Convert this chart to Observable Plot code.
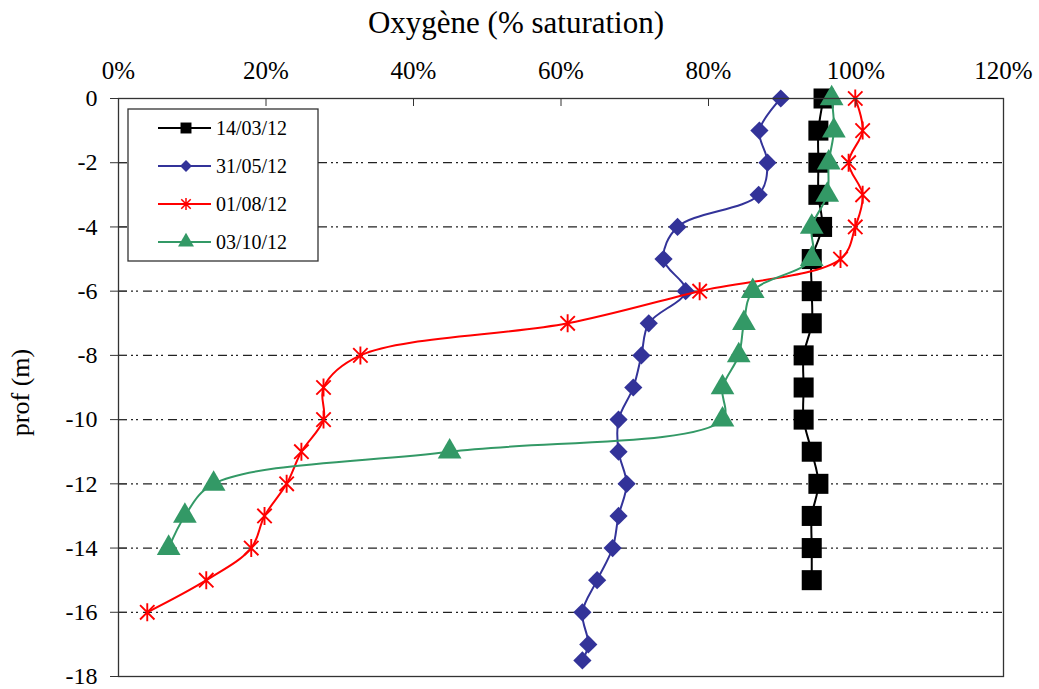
<!DOCTYPE html>
<html>
<head>
<meta charset="utf-8">
<script src="https://cdn.jsdelivr.net/npm/d3@7"></script>
<script src="https://cdn.jsdelivr.net/npm/@observablehq/plot@0.6"></script>
<style>
  body { margin: 0; background: #fff; }
  #chart { width: 1039px; height: 689px; }
</style>
</head>
<body>
<div id="chart"></div>
<script>
// Oxygen saturation profiles (%), one per sampling date, by depth (m)
const dates = ["14/03/12", "31/05/12", "01/08/12", "03/10/12"];

const depth_140312 = [0, -1, -2, -3, -4, -5, -6, -7, -8, -9, -10, -11, -12, -13, -14, -15];
const oxy_140312   = [95.6, 94.9, 94.9, 94.9, 95.4, 94.0, 94.0, 94.0, 92.9, 92.9, 92.9, 94.0, 94.9, 94.0, 94.0, 94.0];

const depth_310512 = [0, -1, -2, -3, -4, -5, -6, -7, -8, -9, -10, -11, -12, -13, -14, -15, -16, -17, -17.5];
const oxy_310512   = [89.8, 86.9, 88.0, 86.8, 75.8, 73.9, 76.9, 71.9, 70.9, 69.8, 67.8, 67.8, 68.9, 67.8, 67.0, 64.9, 62.9, 63.7, 62.9];

const depth_010812 = [0, -1, -2, -3, -4, -5, -6, -7, -8, -9, -10, -11, -12, -13, -14, -15, -16];
const oxy_010812   = [99.9, 100.9, 99.0, 100.9, 99.9, 97.9, 78.8, 60.9, 32.8, 27.8, 27.8, 24.8, 22.8, 19.8, 18.0, 11.9, 3.9];

const depth_031012 = [0, -1, -2, -3, -4, -5, -6, -7, -8, -9, -10, -11, -12, -13, -14];
const oxy_031012   = [96.7, 97.0, 96.3, 96.1, 94.0, 94.0, 86.0, 84.8, 84.1, 81.9, 81.9, 44.9, 12.9, 9.0, 6.8];

const xTicks = [0, 20, 40, 60, 80, 100, 120];
const yTicks = [0, -2, -4, -6, -8, -10, -12, -14, -16, -18];
const gridDepths = [-2, -4, -6, -8, -10, -12, -14, -16];

// Excel-style star marker: an X crossed by a vertical bar
const asterisk = {
  draw(ctx, size) {
    const r = Math.sqrt(size / Math.PI);
    const d = r * 0.8;
    ctx.moveTo(0, -r); ctx.lineTo(0, r);
    ctx.moveTo(-d, -d); ctx.lineTo(d, d);
    ctx.moveTo(-d, d); ctx.lineTo(d, -d);
  }
};

const series = [
  {date: dates[0], depth: depth_140312, oxy: oxy_140312, color: "#000000", symbol: "square", r: 11.3, filled: true},
  {date: dates[1], depth: depth_310512, oxy: oxy_310512, color: "#333399", symbol: "diamond2", r: 8.2, filled: true},
  {date: dates[2], depth: depth_010812, oxy: oxy_010812, color: "#ff0000", symbol: asterisk, r: 9, filled: false},
  {date: dates[3], depth: depth_031012, oxy: oxy_031012, color: "#339966", symbol: "triangle", r: 8.8, filled: true}
];

const rows = s => s.depth.map((d, i) => ({date: s.date, depth: d, oxy: s.oxy[i]}));

const seriesMarks = series.flatMap(s => {
  const data = rows(s);
  return [
    Plot.line(data, {x: "oxy", y: "depth", stroke: s.color, strokeWidth: 2, curve: "catmull-rom"}),
    Plot.dot(data, {
      x: "oxy", y: "depth", symbol: () => s.symbol, r: s.r,
      fill: s.filled ? s.color : "none",
      stroke: s.filled ? "none" : s.color,
      strokeWidth: s.filled ? 0 : 1.9
    })
  ];
});

const serif = "Liberation Serif, Times New Roman, serif";

const chart = Plot.plot({
  width: 1039,
  height: 689,
  marginLeft: 118,
  marginRight: 36,
  marginTop: 98,
  marginBottom: 13,
  style: {background: "#fff", color: "#000", fontFamily: serif},
  symbol: {type: "identity"},
  x: {domain: [0, 120]},
  y: {domain: [-18, 0]},
  marks: [
    Plot.ruleY(gridDepths, {stroke: "#222", strokeWidth: 1.3, strokeDasharray: "9,4,2,3,2,5"}),
    ...seriesMarks,
    Plot.frame({stroke: "#333", strokeWidth: 1.3}),
    Plot.axisX(xTicks, {anchor: "top", tickSize: 0, tickPadding: 20, tickFormat: d => d + "%", fontSize: 25, label: null}),
    Plot.axisX(xTicks, {anchor: "top", tickSize: -7, tickFormat: () => "", label: null, stroke: "#333"}),
    Plot.axisY(yTicks, {anchor: "left", tickSize: 8, tickPadding: 13, tickFormat: d => String(d), fontSize: 24, label: null, stroke: "#333"}),
    Plot.axisY(yTicks, {anchor: "left", tickSize: -9, tickFormat: () => "", label: null, stroke: "#333"}),
    Plot.text(["Oxygène (% saturation)"], {
      text: d => d, frameAnchor: "top", lineAnchor: "middle", textAnchor: "middle",
      dx: -45, dy: -75, fontSize: 31
    }),
    Plot.text(["prof (m)"], {
      text: d => d, frameAnchor: "left", lineAnchor: "middle", textAnchor: "middle",
      dx: -98, dy: 5, rotate: -90, fontSize: 26
    })
  ]
});

// Legend box in the upper-left corner of the plot area
const svg = d3.select(chart);
const lg = svg.append("g").attr("transform", "translate(128,109)");
lg.append("rect").attr("width", 190).attr("height", 152)
  .attr("fill", "#fff").attr("stroke", "#333").attr("stroke-width", 1.3);
const legendSizes = {square: 120, diamond2: 90, triangle: 110};
series.forEach((s, i) => {
  const y = 19 + i * 38;
  const row = lg.append("g").attr("transform", `translate(0,${y})`);
  row.append("line").attr("x1", 30).attr("x2", 83).attr("y1", 0).attr("y2", 0)
    .attr("stroke", s.color).attr("stroke-width", 2);
  const shape = typeof s.symbol === "string"
    ? {square: d3.symbolSquare, diamond2: d3.symbolDiamond2, triangle: d3.symbolTriangle}[s.symbol]
    : s.symbol;
  const path = d3.symbol(shape, typeof s.symbol === "string" ? legendSizes[s.symbol] : 110)();
  row.append("path").attr("d", path).attr("transform", "translate(58,0)")
    .attr("fill", s.filled ? s.color : "none")
    .attr("stroke", s.filled ? "none" : s.color)
    .attr("stroke-width", 1.5);
  row.append("text").attr("x", 88).attr("y", 0).attr("dy", "0.35em")
    .attr("text-anchor", "start")
    .attr("font-size", 20).attr("fill", "#000")
    .text(s.date);
});

// One serif face for every label in the figure
svg.selectAll("text, tspan").style("font-family", serif).style("font-variant", "normal");

document.getElementById("chart").append(chart);
</script>
</body>
</html>
